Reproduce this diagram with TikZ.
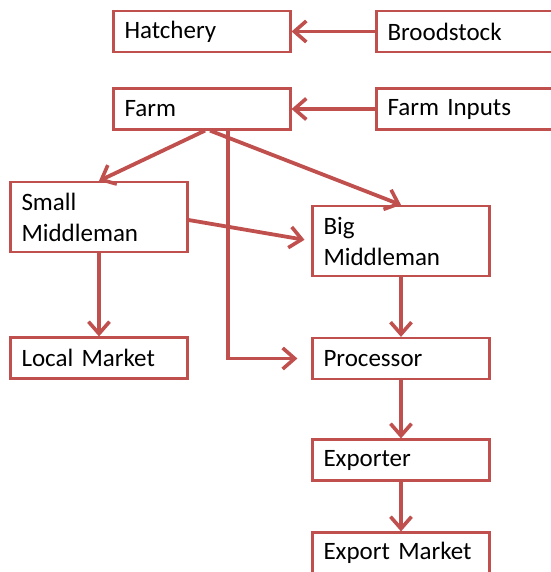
\documentclass[tikz,border=0pt]{standalone}
\usepackage{fontspec}
\setmainfont{Carlito}
\usepackage{tikz}
\usetikzlibrary{arrows.meta}
\definecolor{boxred}{RGB}{192,80,77}

\begin{document}
\begin{tikzpicture}[x=1pt,y=-1pt,
    stage/.style={draw=boxred,line width=2.2pt,rectangle,minimum width=177pt,minimum height=41pt,
        text width=155pt,inner xsep=11pt,align=left,font=\fontsize{25}{31}\selectfont},
    tall/.style={stage,minimum height=70pt},
    flow/.style={draw=boxred,line width=3.8pt,-{Straight Barb[length=12pt,width=21pt,line width=3.6pt]}}]
    \useasboundingbox (0,0) rectangle (550,572);
    \node[stage] (hatchery) at (202,31.5) {Hatchery};
    \node[stage] (brood) at (465,31.5) {Broodstock};
    \node[stage] (farm) at (202,109) {Farm};
    \node[stage] (inputs) at (465,109) {Farm Inputs};
    \node[tall] (small) at (99,217) {Small\\Middleman};
    \node[tall] (big) at (401,241) {Big\\Middleman};
    \node[stage] (local) at (99,358) {Local Market};
    \node[stage] (proc) at (401,358.5) {Processor};
    \node[stage] (exporter) at (401,460) {Exporter};
    \node[stage] (market) at (401,553) {Export Market};
    \draw[flow] (brood.west) -- (hatchery.east);
    \draw[flow] (inputs.west) -- (farm.east);
    \draw[flow] ([xshift=3pt]farm.south) -- (small.north);
    \draw[flow] ([xshift=8pt]farm.south) -- (big.north);
    \draw[flow,shorten >=14pt] ([xshift=26pt]farm.south) |- (proc.west);
    \draw[flow,shorten >=7pt] ([yshift=-3pt]small.east) -- (big.west);
    \draw[flow] (small.south) -- (local.north);
    \draw[flow] (big.south) -- (proc.north);
    \draw[flow] (proc.south) -- (exporter.north);
    \draw[flow] (exporter.south) -- (market.north);
\end{tikzpicture}
\end{document}
